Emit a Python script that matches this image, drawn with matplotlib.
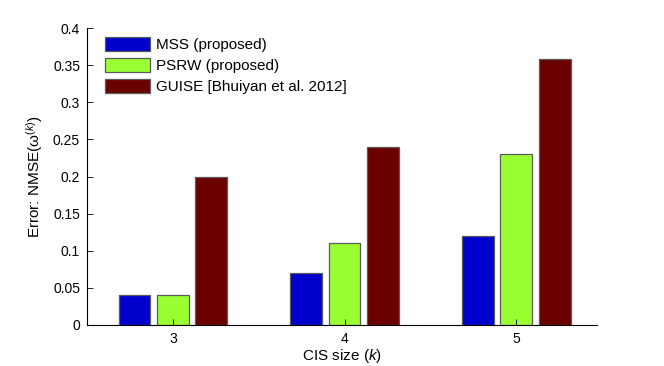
import matplotlib
matplotlib.use("Agg")
import matplotlib.pyplot as plt
import numpy as np
from matplotlib.patches import Patch

plt.rcParams['font.family'] = ['Liberation Sans', 'DejaVu Sans']
plt.rcParams['mathtext.fontset'] = 'custom'
plt.rcParams['mathtext.rm'] = 'Liberation Sans'
plt.rcParams['mathtext.it'] = 'Liberation Sans:italic'

categories = [3, 4, 5]
series_names = ["MSS (proposed)", "PSRW (proposed)", "GUISE [Bhuiyan et al. 2012]"]
mss = [0.04, 0.07, 0.12]
psrw = [0.04, 0.11, 0.23]
guise = [0.20, 0.24, 0.358]
colors = ["#0000CC", "#99FF33", "#6B0000"]
yticks = [0, 0.05, 0.1, 0.15, 0.2, 0.25, 0.3, 0.35, 0.4]
ytick_labels = ["0", "0.05", "0.1", "0.15", "0.2", "0.25", "0.3", "0.35", "0.4"]

fig = plt.figure(figsize=(6.64, 3.66), dpi=100)
ax = fig.add_axes([87/664, 41/366, 510/664, 297/366])

x = np.array(categories, dtype=float)
width = 0.185
offset = 0.224
for i, (vals, c) in enumerate(zip([mss, psrw, guise], colors)):
    ax.bar(x + (i - 1) * offset, vals, width=width, color=c,
           edgecolor="#5a5a5a", linewidth=0.9)

ax.set_xlim(2.5, 5.47)
ax.set_ylim(0, 0.4)
ax.set_xticks(categories)
ax.set_xticklabels([str(c) for c in categories])
ax.set_yticks(yticks)
ax.set_yticklabels(ytick_labels)
ax.tick_params(direction='in', length=4, labelsize=10, width=0.6)
ax.tick_params(axis='x', pad=5)
ax.tick_params(axis='y', pad=5)
for s in ['top', 'right']:
    ax.spines[s].set_visible(False)
for s in ['left', 'bottom']:
    ax.spines[s].set_linewidth(0.8)

ax.set_xlabel(r"CIS size ($\mathit{k}$)", fontsize=11, labelpad=1)
ax.set_ylabel(r"Error: NMSE(ω$^{(\mathit{k})}$)", fontsize=11, labelpad=6)

handles = [Patch(facecolor=c, edgecolor="#5a5a5a", linewidth=0.9) for c in colors]
ax.legend(handles, series_names, loc='upper left',
          bbox_to_anchor=(18/510, 1 - 9/297),
          frameon=False, fontsize=11, handlelength=2.95, handleheight=1.0,
          handletextpad=0.4, labelspacing=0.4, borderpad=0, borderaxespad=0)

fig.savefig("out.png", dpi=100)
